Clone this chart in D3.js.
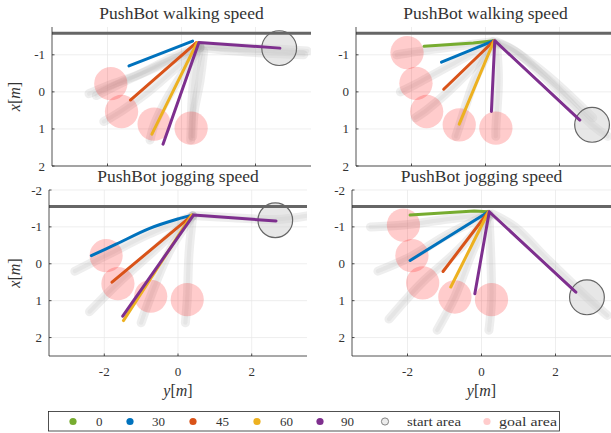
<!DOCTYPE html>
<html>
<head>
<meta charset="utf-8">
<script src="https://cdn.jsdelivr.net/npm/d3@7"></script>
<style>
body { margin: 0; background: #fff; }
svg { display: block; }
text { font-family: "Liberation Serif", "Times New Roman", serif; fill: #333; }
</style>
</head>
<body>
<svg width="611" height="433"></svg>
<script>
// data: points are [y, x] in metres (y horizontal, x vertical)
var titles = ["PushBot walking speed", "PushBot walking speed", "PushBot jogging speed", "PushBot jogging speed"];
var xTicks = [-2, 0, 2];
var yTicksTop = [-1, 0, 1, 2];
var yTicksBottom = [-2, -1, 0, 1, 2];
var angles = ["0", "30", "45", "60", "90"];
var legendLabels = ["0", "30", "45", "60", "90", "start area", "goal area"];
var walls = [-1.58, -1.58, -1.55, -1.55];

// top left
var tlStart = [2.64, -1.18];
var tlGoals = [[-1.91, -0.22], [-1.62, 0.53], [-0.74, 0.87], [0.26, 0.98]];
var tlLines = {
  "30": [[-1.42, -0.70], [0.30, -1.37]],
  "45": [[-1.38, 0.22], [0.40, -1.33]],
  "60": [[-0.80, 1.14], [0.42, -1.33]],
  "90": [[-0.50, 1.41], [0.47, -1.33], [2.66, -1.18]]
};
var tlTracks = [
  [[3.4, -1.1], [2.64, -1.15], [1.5, -1.2], [0.5, -1.25]],
  [[3.3, -1.0], [2.2, -1.05], [1.2, -1.12], [0.5, -1.2]],
  [[0.5, -1.25], [-0.3, -0.9], [-1.2, -0.45], [-1.9, -0.2], [-2.5, 0.05]],
  [[0.5, -1.2], [-0.5, -0.75], [-1.4, -0.35], [-2.3, 0.1]],
  [[0.5, -1.2], [-0.2, -0.6], [-0.9, 0.0], [-1.6, 0.5], [-2.1, 0.8]],
  [[0.5, -1.2], [0.1, -0.6], [-0.4, 0.2], [-0.74, 0.9], [-0.85, 1.3]],
  [[0.5, -1.2], [0.35, -0.5], [0.28, 0.3], [0.26, 1.0], [0.25, 1.3]],
  [[0.6, -1.1], [0.5, -0.3], [0.35, 0.5], [0.3, 1.2]]
];

// top right
var trStart = [2.88, 0.89];
var trGoals = [[-2.12, -1.06], [-1.88, -0.23], [-1.59, 0.53], [-0.71, 0.89], [0.28, 0.98]];
var trLines = {
  "0": [[-1.66, -1.23], [-0.33, -1.32], [0.23, -1.38]],
  "30": [[-1.19, -0.80], [0.23, -1.38]],
  "45": [[-1.13, -0.07], [0.23, -1.38]],
  "60": [[-0.71, 0.87], [0.23, -1.38]],
  "90": [[0.16, 0.53], [0.25, -1.38], [2.55, 0.76]]
};
var trTracks = [
  [[3.3, 1.2], [2.88, 0.89], [1.8, -0.2], [0.8, -1.1], [0.3, -1.35]],
  [[2.9, 0.7], [1.6, -0.5], [0.6, -1.2], [0.3, -1.3]],
  [[0.2, -1.35], [-1.0, -1.2], [-2.1, -1.05], [-2.4, -1.0]],
  [[0.2, -1.35], [-0.8, -0.8], [-1.9, -0.2], [-2.3, 0.0]],
  [[0.2, -1.3], [-0.5, -0.5], [-1.6, 0.5], [-1.9, 0.7]],
  [[0.2, -1.3], [-0.3, -0.3], [-0.7, 0.9], [-0.8, 1.2]],
  [[0.3, -1.3], [0.35, -0.3], [0.28, 1.0], [0.28, 1.2]]
];

// bottom left
var blStart = [2.64, -1.18];
var blGoals = [[-1.95, -0.22], [-1.63, 0.54], [-0.74, 0.88], [0.25, 0.97]];
var blLines = {
  "30": [[-2.35, -0.22], [-1.68, -0.53], [-0.77, -0.96], [0.05, -1.23], [0.39, -1.32]],
  "45": [[-1.79, 0.50], [0.39, -1.32]],
  "60": [[-1.48, 1.54], [0.37, -1.32]],
  "90": [[-1.50, 1.42], [0.42, -1.32], [2.66, -1.16]]
};
var blTracks = [
  [[3.5, -1.3], [2.64, -1.2], [1.5, -1.25], [0.5, -1.3]],
  [[0.4, -1.3], [-0.8, -0.8], [-1.9, -0.25], [-2.8, 0.2]],
  [[0.4, -1.3], [-0.6, -0.4], [-1.6, 0.5], [-2.4, 1.3]],
  [[0.4, -1.3], [-0.2, -0.4], [-0.74, 0.88], [-1.0, 1.6]],
  [[0.4, -1.3], [0.3, -0.3], [0.25, 0.97], [0.2, 1.6]]
];

// bottom right
var brStart = [2.85, 0.91];
var brGoals = [[-2.11, -1.05], [-1.88, -0.22], [-1.59, 0.52], [-0.72, 0.90], [0.27, 0.97]];
var brLines = {
  "0": [[-1.93, -1.32], [-0.20, -1.43], [0.19, -1.41]],
  "30": [[-1.93, -0.09], [0.19, -1.41]],
  "45": [[-1.04, 0.21], [0.19, -1.41]],
  "60": [[-0.83, 0.63], [0.19, -1.41]],
  "90": [[-0.18, 0.81], [0.21, -1.41], [2.55, 0.77]]
};
var brTracks = [
  [[3.4, 1.4], [2.85, 0.91], [1.8, -0.1], [0.9, -1.0], [0.3, -1.35]],
  [[0.2, -1.35], [-1.0, -1.2], [-2.1, -1.05], [-3.0, -1.0]],
  [[0.2, -1.35], [-0.9, -0.8], [-1.9, -0.2], [-2.8, 0.2]],
  [[0.2, -1.3], [-0.6, -0.4], [-1.6, 0.5], [-2.5, 1.5]],
  [[0.2, -1.3], [-0.3, -0.2], [-0.72, 0.9], [-1.2, 1.8]],
  [[0.2, -1.3], [0.25, -0.2], [0.27, 0.97], [0.2, 1.8]]
];

var colors = { "0": "#77AC30", "30": "#0072BD", "45": "#D95319", "60": "#EDB120", "90": "#7E2F8E" };

var panels = [
  { left: 52, width: 259, top: 27, bottom: 166, yDom: [-1.75, 2], yTicks: yTicksTop, titleY: 19, xLabels: false, yLabel: true,
    start: tlStart, goals: tlGoals, lines: tlLines, tracks: tlTracks },
  { left: 356, width: 259, top: 27, bottom: 166, yDom: [-1.75, 2], yTicks: yTicksTop, titleY: 19, xLabels: false, yLabel: false,
    start: trStart, goals: trGoals, lines: trLines, tracks: trTracks },
  { left: 49, width: 258, top: 190, bottom: 356, yDom: [-2, 2.5], yTicks: yTicksBottom, titleY: 182, xLabels: true, yLabel: true,
    start: blStart, goals: blGoals, lines: blLines, tracks: blTracks },
  { left: 352, width: 259, top: 190, bottom: 356, yDom: [-2, 2.5], yTicks: yTicksBottom, titleY: 182, xLabels: true, yLabel: false,
    start: brStart, goals: brGoals, lines: brLines, tracks: brTracks }
];

var svg = d3.select("svg");

panels.forEach(function(p, i) {
  var xs = d3.scaleLinear().domain([-3.5, 3.5]).range([p.left, p.left + p.width]);
  var ys = d3.scaleLinear().domain(p.yDom).range([p.top, p.bottom]);
  var rx = xs(0.45) - xs(0);

  var g = svg.append("g");
  var clipId = "clip" + i;
  g.append("clipPath").attr("id", clipId)
    .append("rect").attr("x", p.left).attr("y", p.top)
    .attr("width", p.width).attr("height", p.bottom - p.top);

  // grid
  g.selectAll(".gx").data(xTicks).enter().append("line")
    .attr("x1", d => xs(d)).attr("x2", d => xs(d))
    .attr("y1", p.top).attr("y2", p.bottom)
    .attr("stroke", "#e6e6e6").attr("stroke-width", 0.7);
  g.selectAll(".gy").data(p.yTicks).enter().append("line")
    .attr("x1", p.left).attr("x2", p.left + p.width)
    .attr("y1", d => ys(d)).attr("y2", d => ys(d))
    .attr("stroke", "#e6e6e6").attr("stroke-width", 0.7);

  var plot = g.append("g").attr("clip-path", "url(#" + clipId + ")");
  var line = d3.line().x(d => xs(d[0])).y(d => ys(d[1]));
  var smooth = d3.line().x(d => xs(d[0])).y(d => ys(d[1])).curve(d3.curveCatmullRom);

  // recorded trajectories
  plot.selectAll(".track").data(p.tracks).enter().append("path")
    .attr("d", smooth)
    .attr("fill", "none").attr("stroke", "#a8a8a8").attr("stroke-opacity", 0.2)
    .attr("stroke-width", 9).attr("stroke-linecap", "round").attr("stroke-linejoin", "round");
  plot.selectAll(".track2").data(p.tracks).enter().append("path")
    .attr("d", smooth)
    .attr("fill", "none").attr("stroke", "#a8a8a8").attr("stroke-opacity", 0.12)
    .attr("stroke-width", 4).attr("stroke-linecap", "round").attr("stroke-linejoin", "round");

  // goal areas
  plot.selectAll(".goal").data(p.goals).enter().append("circle")
    .attr("cx", d => xs(d[0])).attr("cy", d => ys(d[1])).attr("r", rx)
    .attr("fill", "#ff0000").attr("fill-opacity", 0.2);

  // start area
  plot.append("circle")
    .attr("cx", xs(p.start[0])).attr("cy", ys(p.start[1])).attr("r", xs(0.47) - xs(0))
    .attr("fill", "#cfcfcf").attr("fill-opacity", 0.5)
    .attr("stroke", "#666").attr("stroke-width", 1.2);

  // wall
  plot.append("line")
    .attr("x1", p.left).attr("x2", p.left + p.width)
    .attr("y1", ys(walls[i])).attr("y2", ys(walls[i]))
    .attr("stroke", "#666").attr("stroke-width", 3);

  // mean paths per angle
  angles.forEach(function(a) {
    if (!p.lines[a]) return;
    plot.append("path").datum(p.lines[a])
      .attr("d", a === "30" && i === 2 ? smooth : line)
      .attr("fill", "none").attr("stroke", colors[a]).attr("stroke-width", 3)
      .attr("stroke-linecap", "round").attr("stroke-linejoin", "round");
  });

  // axes
  g.append("line").attr("x1", p.left).attr("x2", p.left)
    .attr("y1", p.top).attr("y2", p.bottom).attr("stroke", "#262626").attr("stroke-width", 0.8);
  g.append("line").attr("x1", p.left).attr("x2", p.left + p.width)
    .attr("y1", p.bottom).attr("y2", p.bottom).attr("stroke", "#262626").attr("stroke-width", 0.8);
  g.selectAll(".ty").data(p.yTicks).enter().append("line")
    .attr("x1", p.left).attr("x2", p.left + 2.5)
    .attr("y1", d => ys(d)).attr("y2", d => ys(d)).attr("stroke", "#262626").attr("stroke-width", 0.8);
  g.selectAll(".tx").data(xTicks).enter().append("line")
    .attr("x1", d => xs(d)).attr("x2", d => xs(d))
    .attr("y1", p.bottom).attr("y2", p.bottom - 2.5).attr("stroke", "#262626").attr("stroke-width", 0.8);

  g.selectAll(".yl").data(p.yTicks).enter().append("text")
    .attr("x", p.left - 7).attr("y", d => ys(d) + 4.5)
    .attr("text-anchor", "end").attr("font-size", 13)
    .text(d => d);

  if (p.xLabels) {
    g.selectAll(".xl").data(xTicks).enter().append("text")
      .attr("x", d => xs(d)).attr("y", p.bottom + 20)
      .attr("text-anchor", "middle").attr("font-size", 13)
      .text(d => d);
    var xl = g.append("text").attr("x", xs(0)).attr("y", 396)
      .attr("text-anchor", "middle").attr("font-size", 16);
    xl.append("tspan").attr("font-style", "italic").text("y");
    xl.append("tspan").text("[");
    xl.append("tspan").attr("font-style", "italic").text("m");
    xl.append("tspan").text("]");
  }

  if (p.yLabel) {
    var cy = (p.top + p.bottom) / 2;
    var yl = g.append("text").attr("transform", "translate(20," + cy + ") rotate(-90)")
      .attr("text-anchor", "middle").attr("font-size", 16);
    yl.append("tspan").attr("font-style", "italic").text("x");
    yl.append("tspan").text("[");
    yl.append("tspan").attr("font-style", "italic").text("m");
    yl.append("tspan").text("]");
  }

  g.append("text").attr("x", xs(0)).attr("y", p.titleY)
    .attr("text-anchor", "middle").attr("font-size", 17.5)
    .text(titles[i]);
});

// legend
var legend = svg.append("g");
legend.append("rect").attr("x", 48.5).attr("y", 411.5).attr("width", 511).attr("height", 19.5)
  .attr("fill", "#fff").attr("stroke", "#262626").attr("stroke-width", 0.8);

var legendDotX = [73, 130, 193, 257, 320, 385, 487];
var legendTextX = [96, 152, 216, 280, 341, 407, 499];
var legendTextW = [0, 0, 0, 0, 0, 54, 58];
legendLabels.forEach(function(lbl, k) {
  var c = legend.append("circle").attr("cx", legendDotX[k]).attr("cy", 421.5).attr("r", 3.6);
  if (k < 5) c.attr("fill", colors[angles[k]]);
  else if (k === 5) c.attr("fill", "#ececec").attr("stroke", "#777").attr("stroke-width", 0.9);
  else c.attr("fill", "#ff0000").attr("fill-opacity", 0.2);
  var t = legend.append("text").attr("x", legendTextX[k]).attr("y", 425.5)
    .attr("font-size", 13).text(lbl);
  if (legendTextW[k]) t.attr("textLength", legendTextW[k]).attr("lengthAdjust", "spacingAndGlyphs");
});
</script>
</body>
</html>
